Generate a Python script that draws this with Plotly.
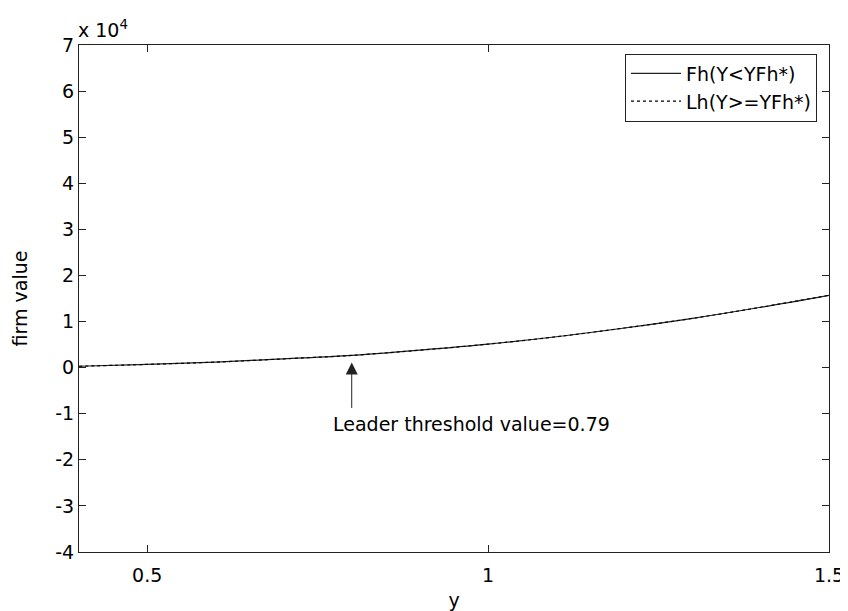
import numpy as np
import plotly.graph_objects as go

# Data
y_vals = [0.4, 0.5, 0.6, 0.7, 0.8, 0.9, 1.0, 1.1, 1.2, 1.3, 1.4, 1.5]
firm_value = [300, 700, 1200, 1900, 2650, 3800, 5100, 6700, 8600, 10700, 13100, 15700]

x_ticks = [0.5, 1.0, 1.5]
x_ticktext = ["0.5", "1", "1.5"]
y_ticks = [-40000, -30000, -20000, -10000, 0, 10000, 20000, 30000, 40000, 50000, 60000, 70000]
y_ticktext = ["-4", "-3", "-2", "-1", "0", "1", "2", "3", "4", "5", "6", "7"]

threshold_label = "Leader threshold value=0.79"
arrow_x = 0.8          # where the arrow is drawn in the reference
series_names = ["Fh(Y<YFh*)", "Lh(Y>=YFh*)"]

FONT = "DejaVu Sans"
FS = 19

fig = go.Figure()
fig.add_trace(go.Scatter(x=y_vals, y=firm_value, mode="lines", name=series_names[0],
                         line=dict(color="#222222", width=1.2, shape="spline")))
fig.add_trace(go.Scatter(x=y_vals, y=firm_value, mode="lines", name=series_names[1],
                         line=dict(color="#000000", width=1.2, dash="dot", shape="spline")))

tip_y = float(np.interp(arrow_x, y_vals, firm_value))

fig.add_annotation(x=arrow_x, y=tip_y, xref="x", yref="y", text="",
                   showarrow=True, arrowhead=2, arrowsize=2.4, arrowwidth=1,
                   arrowcolor="#222222", ax=0, ay=54, standoff=7)
fig.add_annotation(x=arrow_x, y=-12300, xref="x", yref="y",
                   text=threshold_label, showarrow=False,
                   xanchor="left", yanchor="middle", xshift=-21,
                   font=dict(family=FONT, size=FS, color="#000000"))
fig.add_annotation(x=0, y=1, xref="paper", yref="paper", xanchor="left", yanchor="bottom",
                   xshift=-3, yshift=2, text="x 10<sup>4</sup>", showarrow=False,
                   font=dict(family=FONT, size=FS, color="#000000"))

axis_common = dict(showline=True, linecolor="#222222", linewidth=1, mirror="ticks",
                   ticks="inside", ticklen=7, tickcolor="#222222", showgrid=False,
                   zeroline=False, tickfont=dict(family=FONT, size=FS, color="#000000"))

fig.update_xaxes(range=[0.4, 1.5], tickvals=x_ticks, ticktext=x_ticktext,
                 ticklabelstandoff=6,
                 title=dict(text="y", font=dict(family=FONT, size=FS, color="#000000"), standoff=8),
                 **axis_common)
fig.update_yaxes(range=[-40000, 70000], tickvals=y_ticks, ticktext=y_ticktext,
                 title=dict(text="firm value", font=dict(family=FONT, size=FS, color="#000000"), standoff=22),
                 **axis_common)

fig.update_layout(
    width=848, height=611,
    margin=dict(l=71, r=18, t=37, b=55),
    paper_bgcolor="white", plot_bgcolor="white",
    font=dict(family=FONT, size=FS, color="#000000"),
    legend=dict(x=0.984, y=0.983, xanchor="right", yanchor="top",
                bgcolor="white", bordercolor="#222222", borderwidth=1,
                font=dict(family=FONT, size=FS, color="#000000"),
                tracegroupgap=0, itemwidth=50),
    showlegend=True,
)

fig.write_html("out.html")
